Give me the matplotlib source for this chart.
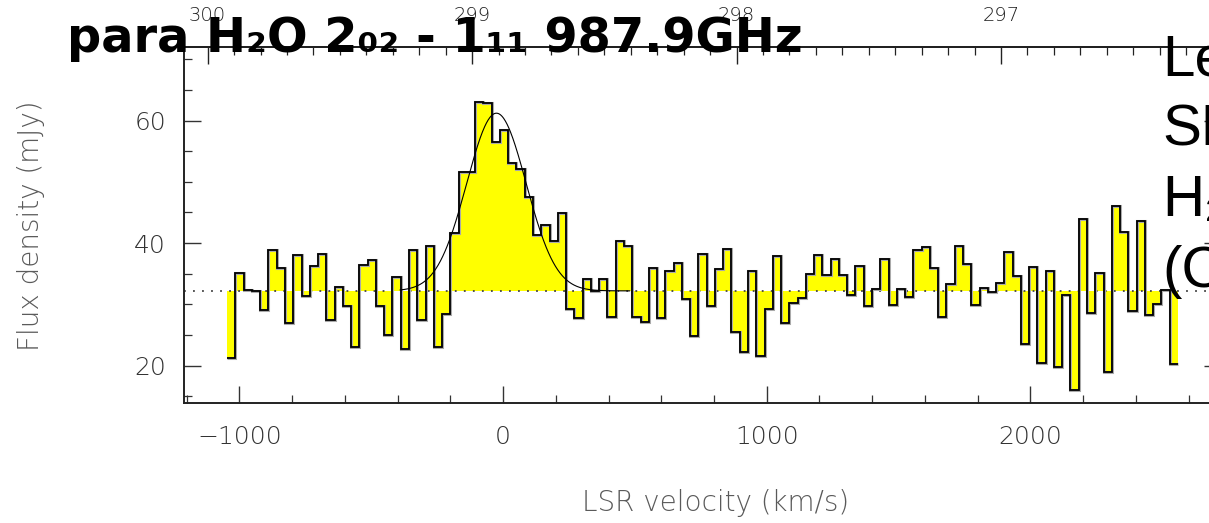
import numpy as np
import matplotlib
matplotlib.use("Agg")
import matplotlib.pyplot as plt
from matplotlib.ticker import MultipleLocator

W, H = 1209, 523

# spectrum channels (LSR velocity, km/s) and flux density (mJy)
chan_v0 = -1046.6
chan_dv = 31.36
flux = [
    21.3, 35.05, 32.4, 32.1, 29.1, 38.8, 36.0, 27.0, 38.1, 31.4,
    36.2, 38.15, 27.4, 32.9, 29.7, 23.0, 36.5, 37.3, 29.7, 25.0,
    34.5, 22.7, 38.9, 27.4, 39.6, 23.0, 28.5, 41.6, 51.6, 51.6,
    63.0, 62.8, 56.5, 58.45, 53.1, 52.1, 47.6, 41.3, 43.0, 40.3,
    44.9, 29.3, 27.75, 34.2, 32.2, 34.2, 28.0, 40.4, 39.5, 27.9,
    27.15, 35.9, 27.8, 35.5, 36.7, 30.8, 24.9, 38.15, 29.8, 35.8,
    39.0, 25.5, 22.2, 35.5, 21.55, 29.3, 37.9, 27.0, 30.15, 31.1,
    34.9, 38.0, 34.8, 37.4, 34.8, 31.5, 36.2, 29.8, 32.5, 37.4,
    29.9, 32.5, 31.2, 38.8, 39.3, 35.9, 28.0, 33.25, 39.5, 36.6,
    29.9, 32.7, 32.05, 33.5, 38.6, 34.6, 23.6, 36.05, 20.5, 35.5,
    19.7, 31.6, 16.1, 43.9, 28.6, 35.15, 18.9, 46.1, 41.85, 28.95,
    43.6, 28.2, 30.0, 32.3, 20.2,
]
baseline = 32.2

# gaussian fit to the line
fit_v0 = -25.0
fit_fwhm = 265.0
fit_peak = 61.2
fit_vmin, fit_vmax = -390.0, 480.0

# observed frequency of v = 0 (GHz)
f_ref = 298.883
C_KMS = 299792.458

title = "para H\u2082O 2\u2080\u2082 - 1\u2081\u2081 987.9GHz"
side_lines = ["Lensed", "SMG", "H\u2082O", "(CO)"]

plt.rcParams["font.family"] = ["DejaVu Sans"]
plt.rcParams["font.weight"] = "light"

edges = chan_v0 + chan_dv * np.arange(len(flux) + 1)

fig = plt.figure(figsize=(W / 100, H / 100), dpi=100)
ax = fig.add_axes([184 / W, 1 - 403 / H, (1221 - 184) / W, (403 - 47) / H])

ax.fill_between(edges, np.r_[flux, flux[-1]], baseline, step="post",
                color="#ffff00", lw=0, zorder=1)
ax.axhline(baseline, color="#444444", lw=1.3, ls=(0, (1, 4)), zorder=2)
ax.stairs(flux, edges, baseline=None, color="#aaaaaa", lw=2.2, zorder=3)
ax.stairs(flux, edges, baseline=None, color="black", lw=1.3, zorder=4)

vv = np.linspace(fit_vmin, fit_vmax, 400)
gauss = baseline + (fit_peak - baseline) * np.exp(
    -4 * np.log(2) * ((vv - fit_v0) / fit_fwhm) ** 2)
ax.plot(vv, gauss, color="black", lw=0.8, zorder=5)

ax.set_xlim(-1210, 2723)
ax.set_ylim(13.9, 72.0)
ax.xaxis.set_major_locator(MultipleLocator(1000))
ax.xaxis.set_minor_locator(MultipleLocator(200))
ax.yaxis.set_major_locator(MultipleLocator(20))
ax.yaxis.set_minor_locator(MultipleLocator(5))
ax.tick_params(which="both", direction="in", top=False, right=True,
               colors="#333333", labelsize=18)
ax.tick_params(which="major", length=12, width=1.0)
ax.tick_params(which="minor", length=6, width=0.9)
ax.tick_params(axis="x", pad=16)
ax.tick_params(axis="y", pad=13)
for sp in ax.spines.values():
    sp.set_color("#222222")
    sp.set_linewidth(1.4)


def v2f(v):
    return f_ref * (1 - np.asarray(v) / C_KMS)


def f2v(f):
    return C_KMS * (1 - np.asarray(f) / f_ref)


sec = ax.secondary_xaxis("top", functions=(v2f, f2v))
sec.xaxis.set_major_locator(MultipleLocator(1))
sec.xaxis.set_minor_locator(MultipleLocator(0.1))
sec.xaxis.set_major_formatter(lambda x, pos: f"{x:.0f}")
sec.tick_params(which="both", direction="in", colors="#222222",
                labelsize=14, pad=16)
sec.tick_params(which="major", length=12, width=1.0)
sec.tick_params(which="minor", length=6, width=0.9)
sec.spines["top"].set_linewidth(1.4)
sec.spines["top"].set_color("black")

fig.text(31 / W, 1 - 226 / H, "Flux density (mJy)", rotation=90,
         ha="center", va="center", fontsize=20, color="#5a5a5a")
fig.text(716 / W, 1 - 503 / H, "LSR velocity (km/s)",
         ha="center", va="center", fontsize=20, color="#5a5a5a")

fig.text(67 / W, 1 - 52 / H, title, fontsize=34.5, weight="bold",
         family=["DejaVu Sans"], va="baseline", color="black")

for i, line in enumerate(side_lines):
    fig.text(1162 / W, 1 - (75 + 70.7 * i) / H, line, fontsize=42,
             family=["Liberation Sans", "DejaVu Sans"], weight="normal",
             va="baseline", ha="left", color="black")

fig.savefig("out.png", dpi=100)
